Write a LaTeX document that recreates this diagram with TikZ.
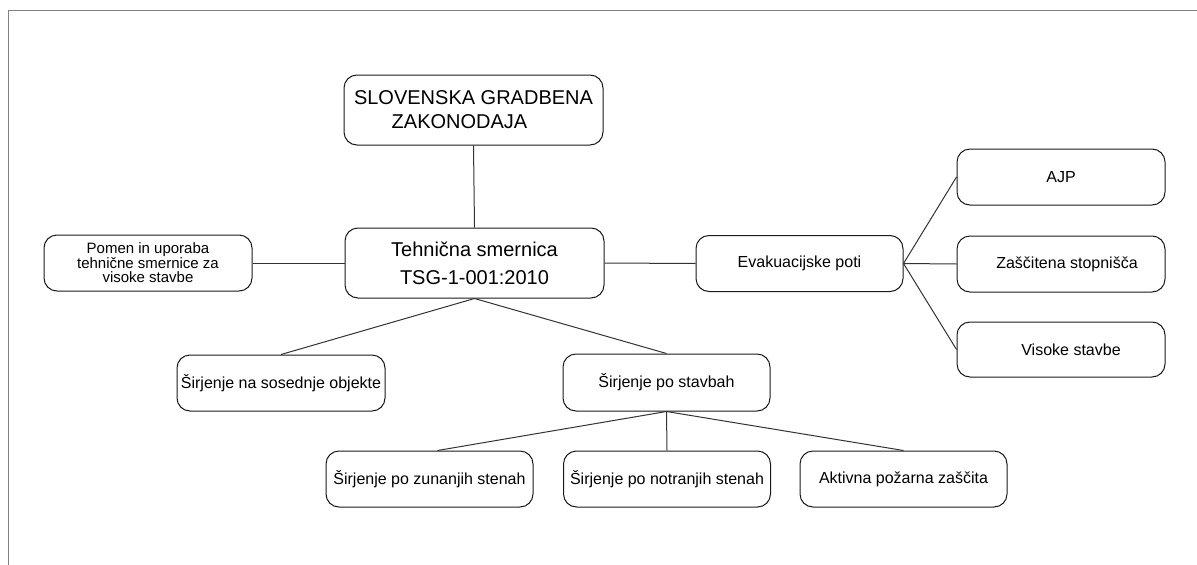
\documentclass[tikz,border=0pt]{standalone}
\usepackage{fontspec}
\setmainfont{Liberation Sans}
\begin{document}
\begin{tikzpicture}[x=1pt,y=-1pt,
  card/.style={draw=black!90, line width=1pt, rounded corners=13pt,
    inner sep=0pt, align=center, text=black},
  big/.style={card, minimum width=259pt, minimum height=70pt,
    font=\fontsize{20}{24}\selectfont},
  mid/.style={card, minimum width=207pt, minimum height=56pt,
    font=\fontsize{16}{19}\selectfont},
  link/.style={draw=black!80, line width=1pt},
  frame/.style={draw=black!50, line width=1.7pt}]
\useasboundingbox (0,0) rectangle (1197,565);

% page frame (top and left edges only)
\draw[frame] (8.5,565) -- (8.5,10.5) -- (1197,10.5);

% central column
\node[big] (slo) at (473.5,110) {SLOVENSKA GRADBENA\\ZAKONODAJA\hspace*{28pt}};
\node[big, font=\fontsize{20}{28}\selectfont] (teh) at (474.5,263)
  {Tehnična smernica\\TSG-1-001:2010};

% left branch
\node[mid, minimum width=208pt, font=\fontsize{15}{14}\selectfont] (pomen) at (148,263)
  {Pomen in uporaba\\tehnične smernice za\\visoke stavbe};

% evacuation branch
\node[mid] (evak) at (799.5,263.5) {Evakuacijske poti};
\node[mid, minimum width=208pt] (ajp) at (1061,177) {AJP};
\node[mid, minimum width=208pt] (zas) at (1061,264) {\hspace*{12pt}Zaščitena stopnišča};
\node[mid, minimum width=208pt, minimum height=55pt] (vis) at (1061,349.5) {\hspace*{20pt}Visoke stavbe};

% fire spread branch
\node[mid, minimum width=208pt] (sos) at (281,383) {Širjenje na sosednje objekte};
\node[mid, minimum height=57pt] (stav) at (666.5,382.5) {Širjenje po stavbah};
\node[mid] (zun) at (429.5,479) {Širjenje po zunanjih stenah};
\node[mid] (notr) at (667,479) {Širjenje po notranjih stenah};
\node[mid] (akt) at (903.5,479) {Aktivna požarna zaščita};

% connectors
\draw[link] (slo.south) -- (teh.north);
\draw[link] (pomen.east) -- (teh.west);
\draw[link] (teh.east) -- (evak.west);
\draw[link] (teh.south) -- (sos.north);
\draw[link] (teh.south) -- (stav.north);
\draw[link] (evak.east) -- (ajp.west);
\draw[link] (evak.east) -- (zas.west);
\draw[link] (evak.east) -- (vis.west);
\draw[link] (stav.south) -- ([xshift=8pt]zun.north);
\draw[link] (stav.south) -- (notr.north);
\draw[link] (stav.south) -- (akt.north);
\end{tikzpicture}
\end{document}
